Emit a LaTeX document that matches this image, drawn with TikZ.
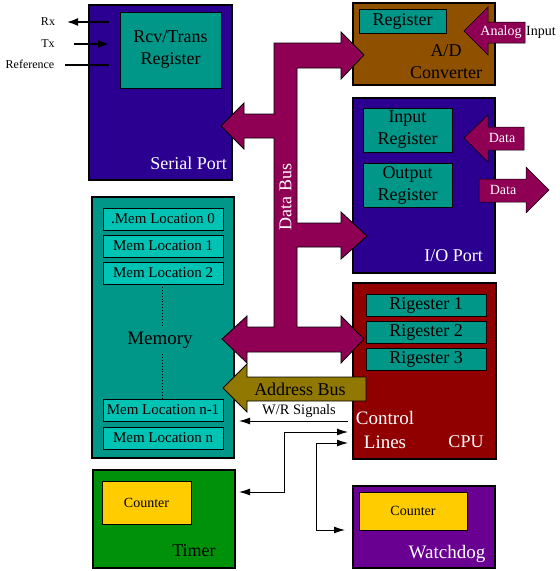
\documentclass[tikz,border=0pt]{standalone}
\usepackage{fontspec}
\setmainfont{Liberation Serif}
\usetikzlibrary{arrows.meta}
\definecolor{portblue}{RGB}{43,0,145}
\definecolor{regteal}{RGB}{0,150,136}
\definecolor{memloc}{RGB}{0,195,180}
\definecolor{adbrown}{RGB}{143,80,0}
\definecolor{cpured}{RGB}{145,0,0}
\definecolor{timgreen}{RGB}{0,145,10}
\definecolor{wdpurple}{RGB}{106,0,145}
\definecolor{cntgold}{RGB}{255,204,0}
\definecolor{busmag}{RGB}{143,0,85}
\definecolor{addrolive}{RGB}{145,120,0}
\begin{document}
\begin{tikzpicture}[x=1pt,y=-1pt,
  box/.style={draw=black, line width=2.4pt, inner sep=0pt, outer sep=0pt, anchor=north west},
  inbox/.style={draw=black, line width=1pt, inner sep=0pt, outer sep=0pt, anchor=north west},
  big/.style={inner sep=0pt, font=\fontsize{18}{22}\selectfont, align=center},
  mid/.style={inner sep=0pt, font=\fontsize{15}{18}\selectfont, align=center},
  small/.style={inner sep=0pt, font=\fontsize{12}{14}\selectfont},
  busshape/.style={fill=busmag, draw=black, line width=0.8pt, line join=miter},
  sigline/.style={line width=1.6pt, -{Latex[length=11pt,width=8pt]}},
  ctl/.style={line width=0.9pt, -{Latex[length=11pt,width=7pt]}},
  ctlboth/.style={line width=0.9pt, {Latex[length=11pt,width=7pt]}-{Latex[length=11pt,width=7pt]}}]
\useasboundingbox (0,0) rectangle (560,571);

% ---- main boxes ----
\node[box, fill=portblue, minimum width=143pt, minimum height=175pt] (serial) at (89,5) {};
\node[inbox, fill=regteal, minimum width=101pt, minimum height=76pt] (rcv) at (120,12) {};
\node[big] (rcvlbl) at (rcv.center) {Rcv/Trans\\Register};
\node[big, text=white, anchor=east] (seriallbl) at (227,163) {Serial Port};

\node[box, fill=adbrown, minimum width=142pt, minimum height=82pt] (adc) at (353,3) {};
\node[inbox, fill=regteal, minimum width=87pt, minimum height=24pt] (adreg) at (359,9) {};
\node[big] (adreglbl) at (adreg.center) {Register};
\node[big] (adclbl) at (446,62) {A/D\\Converter};

\node[box, fill=portblue, minimum width=142pt, minimum height=175pt] (io) at (353,98) {};
\node[inbox, fill=regteal, minimum width=89pt, minimum height=44pt] (inreg) at (363,108) {};
\node[big] (inreglbl) at (inreg.center) {Input\\Register};
\node[inbox, fill=regteal, minimum width=89pt, minimum height=44pt] (outreg) at (363,163) {};
\node[big] (outreglbl) at (outreg.center) {Output\\Register};
\node[big, text=white, anchor=east] (iolbl) at (483,256) {I/O Port};

\node[box, fill=regteal, minimum width=142pt, minimum height=261pt] (mem) at (92,197) {};
\node[inbox, fill=memloc, minimum width=120pt, minimum height=22pt] (m0) at (103,208) {};
\node[mid] at (m0.center) {.Mem Location 0};
\node[inbox, fill=memloc, minimum width=120pt, minimum height=22pt] (m1) at (103,235) {};
\node[mid] at (m1.center) {Mem Location 1};
\node[inbox, fill=memloc, minimum width=120pt, minimum height=22pt] (m2) at (103,262) {};
\node[mid] at (m2.center) {Mem Location 2};
\node[inbox, fill=memloc, minimum width=120pt, minimum height=22pt] (mn1) at (103,399) {};
\node[mid] at (mn1.center) {Mem Location n-1};
\node[inbox, fill=memloc, minimum width=120pt, minimum height=22pt] (mn) at (103,427) {};
\node[mid] at (mn.center) {Mem Location n};
\node[big, font=\fontsize{19}{22}\selectfont] (memlbl) at (160,340) {Memory};
\draw[dotted, line width=0.9pt] (m2.south -| 162,0) -- (162,327);
\draw[dotted, line width=0.9pt] (162,354) -- (mn1.north -| 162,0);

\node[box, fill=cpured, minimum width=143pt, minimum height=176pt] (cpu) at (353,283) {};
\node[inbox, fill=regteal, minimum width=120pt, minimum height=22pt] (r1) at (366,294) {};
\node[big] at (r1.center) {Rigester 1};
\node[inbox, fill=regteal, minimum width=120pt, minimum height=22pt] (r2) at (366,321) {};
\node[big] at (r2.center) {Rigester 2};
\node[inbox, fill=regteal, minimum width=120pt, minimum height=22pt] (r3) at (366,348) {};
\node[big] at (r3.center) {Rigester 3};
\node[big, text=white, font=\fontsize{19}{24}\selectfont] (ctllbl) at (385,430) {Control\\Lines};
\node[big, text=white] (cpulbl) at (466,442) {CPU};

\node[box, fill=timgreen, minimum width=142pt, minimum height=98pt] (timer) at (93,470) {};
\node[inbox, fill=cntgold, minimum width=89pt, minimum height=43pt] (tcnt) at (102,481) {};
\node[mid, font=\fontsize{14}{16}\selectfont] at (tcnt.center) {Counter};
\node[big] (timerlbl) at (194,551) {Timer};

\node[box, fill=wdpurple, minimum width=142pt, minimum height=82pt] (wd) at (353,486) {};
\node[inbox, fill=cntgold, minimum width=108pt, minimum height=38pt] (wcnt) at (359,492) {};
\node[mid, font=\fontsize{14}{16}\selectfont] at (wcnt.center) {Counter};
\node[big, text=white, font=\fontsize{19}{22}\selectfont] (wdlbl) at (447,554) {Watchdog};

% ---- serial signals ----
\node[small] (rxlbl) at (48,22) {Rx};
\node[small] (txlbl) at (48,44) {Tx};
\node[small] (reflbl) at (30,64) {Reference};
\coordinate (rxin) at (109,22);
\coordinate (rxout) at (67,22);
\coordinate (txin) at (109,44);
\coordinate (txout) at (74,44);
\coordinate (refin) at (109,65);
\coordinate (refout) at (65,65);
\draw[sigline] (rxin) -- (rxout);
\draw[sigline] (txout) -- (txin);
\draw[line width=1.6pt] (refout) -- (refin);

% ---- data bus ----
\path[busshape] (274,43) -- (341,43) -- (341,32) -- (364,55) -- (341,79) -- (341,68) -- (297,68)
  -- (297,223) -- (341,223) -- (341,212) -- (367,236) -- (341,259) -- (341,247) -- (297,247)
  -- (297,327) -- (341,327) -- (341,316) -- (364,339) -- (341,363) -- (341,352) -- (247,352)
  -- (247,363) -- (222,339) -- (247,316) -- (247,327) -- (274,327) -- (274,138) -- (244,138)
  -- (244,149) -- (221,126) -- (244,103) -- (244,114) -- (274,114) -- cycle;
\node[big, text=white, rotate=90] (buslbl) at (285.5,197) {Data Bus};

% ---- address bus ----
\path[fill=addrolive, draw=black, line width=0.8pt] (223,388) -- (247,364) -- (247,377) -- (366,377)
  -- (366,401) -- (247,401) -- (247,412) -- cycle;
\node[big] (addrlbl) at (300,389) {Address Bus};

% ---- external arrows ----
\path[busshape, line width=0.5pt] (464,31) -- (488,7) -- (488,22) -- (525,22) -- (525,43) -- (488,43) -- (488,55) -- cycle;
\node[mid, text=white, font=\fontsize{14}{16}\selectfont] (analoglbl) at (501,32) {Analog};
\node[mid, anchor=west, font=\fontsize{14}{16}\selectfont] (inputlbl) at (526,32) {Input};
\path[busshape, line width=0.5pt] (464,138) -- (488,115) -- (488,127) -- (524,127) -- (524,150) -- (488,150) -- (488,162) -- cycle;
\node[mid, text=white, font=\fontsize{14}{16}\selectfont] (dinlbl) at (502,138) {Data};
\path[busshape, line width=0.5pt] (479,179) -- (526,179) -- (526,167) -- (549,190) -- (526,213) -- (526,202) -- (479,202) -- cycle;
\node[mid, text=white, font=\fontsize{14}{16}\selectfont] (doutlbl) at (503,190) {Data};

% ---- control lines ----
\coordinate (wrcpu) at (348,421);
\coordinate (wrmem) at (239,421);
\draw[ctl] (wrcpu) -- (wrmem);
\node[mid, font=\fontsize{14.5}{16}\selectfont] (wrlbl) at (299,411) {W/R Signals};
\coordinate (c2cpu) at (348,432);
\coordinate (c2tim) at (239,492);
\draw[ctlboth] (c2tim) -- (284,492) -- (284,432) -- (c2cpu);
\coordinate (c3cpu) at (348,443);
\coordinate (c3wd) at (345,530);
\draw[ctlboth] (c3wd) -- (316,530) -- (316,443) -- (c3cpu);
\end{tikzpicture}
\end{document}
